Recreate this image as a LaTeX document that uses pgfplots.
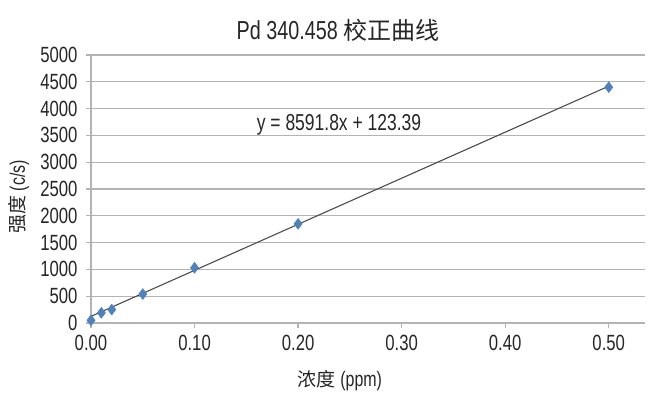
\documentclass[border=0pt]{standalone}
\usepackage{fontspec}
\setmainfont{Liberation Sans}[FakeStretch=0.76]
\newfontfamily\cjk{Noto Sans CJK SC}
\usepackage{pgfplots}
\pgfplotsset{compat=1.18}
\definecolor{markblue}{HTML}{4F81BD}
\definecolor{gridgray}{HTML}{B3B3B3}
\definecolor{txt}{HTML}{262626}
\begin{document}
\begin{tikzpicture}[x=1pt,y=1pt]
\useasboundingbox (0,0) rectangle (655,393);
\begin{axis}[
  at={(91pt,70pt)}, anchor=south west,
  scale only axis, width=554pt, height=268pt,
  xmin=0, xmax=0.535, ymin=0, ymax=5000,
  axis x line*=bottom, axis y line*=left,
  axis line style={gridgray, line width=1.3pt, -},
  xtick={0,0.1,0.2,0.3,0.4,0.5},
  xticklabels={0.00,0.10,0.20,0.30,0.40,0.50},
  ytick={0,500,...,5000},
  scaled y ticks=false,
  /pgf/number format/assume math mode=true,
  yticklabel style={/pgf/number format/1000 sep={}, font=\fontsize{22}{24}\selectfont, text=txt, xshift=-5pt},
  xticklabel style={font=\fontsize{22}{24}\selectfont, text=txt, yshift=-4pt},
  tick align=outside,
  major tick length=5pt,
  tick style={gridgray, line width=1.3pt},
  ymajorgrids, grid style={gridgray, line width=1.3pt},
  clip=false,
]
\addplot[black!70, line width=1.1pt, no marks] coordinates {(0,123.39) (0.5,4419.29)};
\addplot[only marks, mark=diamond*, mark size=5.5pt, mark options={fill=markblue, draw=markblue}] coordinates {
(0,50) (0.01,190) (0.02,250) (0.05,540) (0.1,1030) (0.2,1850) (0.5,4400)
};
\end{axis}
\node[font=\fontsize{26}{28}\selectfont, text=txt] at (338,363) {Pd 340.458 {\cjk\fontsize{24}{26}\selectfont 校正曲线}};
\node[font=\fontsize{23}{25}\selectfont, text=txt] at (339,268) {y = 8591.8x + 123.39};
\node[font=\fontsize{21}{23}\selectfont, text=txt] at (340,12) {{\cjk\fontsize{19}{21}\selectfont 浓度} (ppm)};
\node[font=\fontsize{21}{23}\selectfont, text=txt, rotate=90] at (19,196) {{\cjk\fontsize{19}{21}\selectfont 强度} (c/s)};
\end{tikzpicture}
\end{document}
